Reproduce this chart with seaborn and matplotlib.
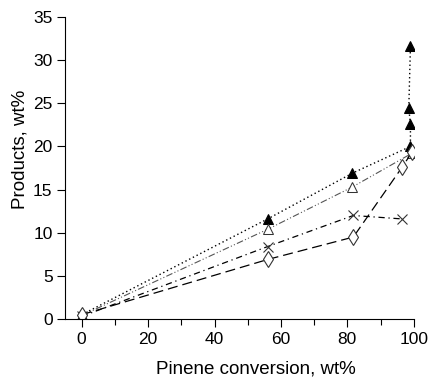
import matplotlib
matplotlib.use("Agg")
import matplotlib.pyplot as plt
import seaborn as sns
from matplotlib.ticker import MultipleLocator

sns.set_theme(style="ticks")
plt.rcParams['font.family'] = ['Liberation Sans', 'DejaVu Sans']

# series
filled_x = [0, 56, 81.5, 99, 99, 98.5, 99]
filled_y = [0.5, 11.6, 16.9, 20.0, 22.6, 24.4, 31.6]
open_x = [0, 56, 81.5, 99.4]
open_y = [0.4, 10.4, 15.3, 19.2]
cross_x = [0, 56, 81.8, 96.5]
cross_y = [0.3, 8.4, 12.0, 11.6]
diamond_x = [0, 56, 81.8, 96.5, 99.4]
diamond_y = [0.5, 6.9, 9.5, 17.6, 19.3]

fig = plt.figure(figsize=(4.31, 3.78), dpi=100)
ax = fig.add_axes([0.151, 0.156, 0.809, 0.799])

common = dict(sort=False, estimator=None, ax=ax)
sns.lineplot(x=filled_x, y=filled_y, color='black',
             linestyle=(0, (1, 2)), linewidth=1, marker='^', markersize=7,
             markerfacecolor='black', markeredgecolor='black', **common)
sns.lineplot(x=open_x, y=open_y, color='#555555',
             linestyle=(0, (6, 2, 1, 2, 1, 2)), linewidth=0.8, marker='^',
             markersize=7, markerfacecolor='white', markeredgecolor='#333333',
             **common)
sns.lineplot(x=cross_x, y=cross_y, color='black',
             linestyle=(0, (5, 3, 1, 3)), linewidth=0.9, marker='x',
             markersize=7, markeredgecolor='#333333', markeredgewidth=0.8,
             **common)
sns.lineplot(x=diamond_x, y=diamond_y, color='black',
             linestyle=(0, (8, 4)), linewidth=0.9, marker='d', markersize=8,
             markerfacecolor='white', markeredgecolor='#333333',
             markeredgewidth=0.8, **common)

ax.set_xlim(-5, 100)
ax.set_ylim(0, 35)
ax.xaxis.set_major_locator(MultipleLocator(20))
ax.xaxis.set_minor_locator(MultipleLocator(10))
ax.yaxis.set_major_locator(MultipleLocator(5))
ax.tick_params(axis='both', which='major', labelsize=12.5, length=6,
               width=0.8, direction='out', colors='black', labelcolor='black',
               pad=3)
ax.tick_params(axis='x', which='minor', length=4, width=0.8, colors='black')
for s in ['top', 'right']:
    ax.spines[s].set_visible(False)
for s in ['left', 'bottom']:
    ax.spines[s].set_color('black')
    ax.spines[s].set_linewidth(0.8)

ax.set_xlabel('Pinene conversion, wt%', fontsize=13.5, color='black')
ax.set_ylabel('Products, wt%', fontsize=13.5, color='black')
ax.xaxis.set_label_coords(0.547, -0.138)
ax.yaxis.set_label_coords(-0.105, 0.563)

fig.savefig('out.png', dpi=100)
